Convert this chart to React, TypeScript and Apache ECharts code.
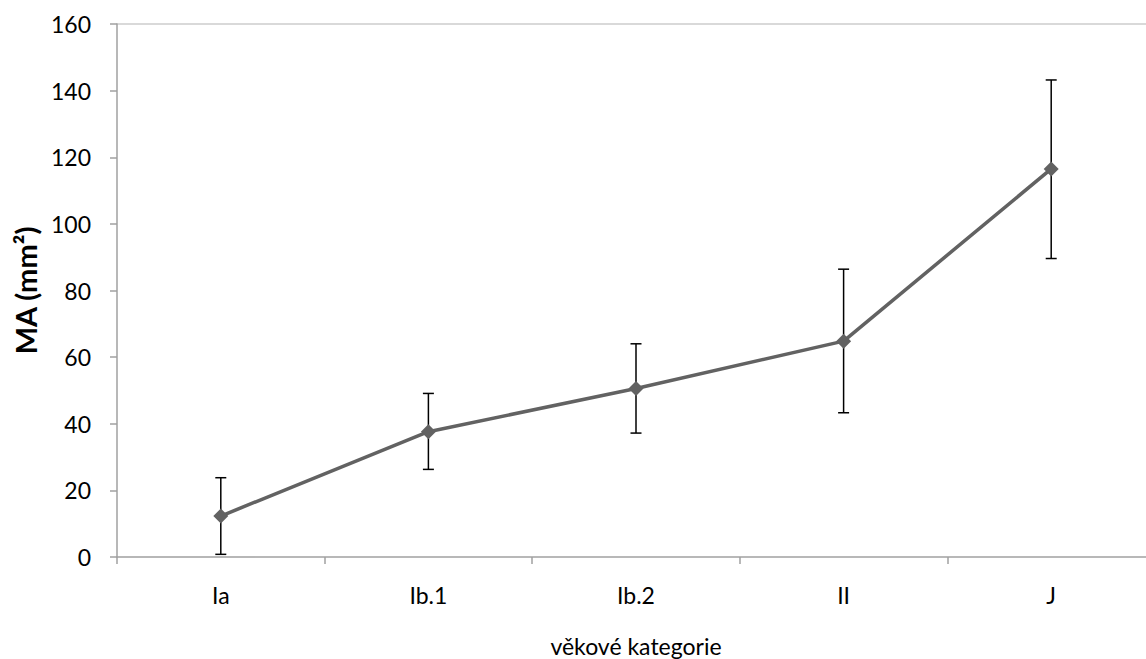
import React, { useEffect, useRef } from "react";
import * as echarts from "echarts";

const categories = ["Ia", "Ib.1", "Ib.2", "II", "J"];
const meanValues = [12.3, 37.6, 50.6, 64.8, 116.5];
const upperValues = [23.8, 49.1, 64.0, 86.4, 143.2];
const lowerValues = [0.8, 26.3, 37.2, 43.3, 89.6];
const yTicks = { min: 0, max: 160, interval: 20 };

const FONT = "Lato";

export default function App() {
  const ref = useRef<HTMLDivElement>(null);
  useEffect(() => {
    if (!ref.current) return;
    const chart = echarts.init(ref.current, undefined, { renderer: "svg" });
    const errData = categories.map((_, i) => [i, lowerValues[i], upperValues[i]]);
    const splitColors = Array.from({ length: 9 }, (_, i) => (i === 8 ? "#d9d9d9" : "rgba(0,0,0,0)"));
    chart.setOption({
      animation: false,
      backgroundColor: "#ffffff",
      grid: {
        left: 117,
        right: -9,
        top: 24,
        bottom: 102,
        containLabel: false,
        outerBoundsMode: "none",
      },
      xAxis: {
        type: "category",
        data: categories,
        boundaryGap: true,
        name: "věkové kategorie",
        nameLocation: "middle",
        nameGap: 77,
        nameTextStyle: { fontFamily: FONT, fontSize: 23, color: "#000" },
        axisLine: { lineStyle: { color: "#a0a0a0", width: 1.5 } },
        axisTick: { show: true, length: 7, lineStyle: { color: "#a0a0a0", width: 1.5 } },
        axisLabel: { fontFamily: FONT, fontSize: 23, color: "#000", margin: 26 },
        splitLine: { show: false },
      },
      yAxis: {
        type: "value",
        min: yTicks.min,
        max: yTicks.max,
        interval: yTicks.interval,
        name: "MA (mm²)",
        nameLocation: "middle",
        nameGap: 75,
        nameTextStyle: { fontFamily: FONT, fontSize: 29, fontWeight: "bold", color: "#000" },
        axisLine: { show: true, lineStyle: { color: "#a0a0a0", width: 1.5 } },
        axisTick: { show: true, length: 7, lineStyle: { color: "#a0a0a0", width: 1.5 } },
        axisLabel: { fontFamily: FONT, fontSize: 23, color: "#000", margin: 26 },
        splitLine: { show: true, lineStyle: { color: splitColors, width: 2 } },
      },
      series: [
        {
          type: "custom",
          z: 1,
          data: errData,
          renderItem: (params: any, api: any) => {
            const i = api.value(0);
            const lo = api.coord([i, api.value(1)]);
            const hi = api.coord([i, api.value(2)]);
            const hw = 5.5;
            const style = { stroke: "#000", lineWidth: 1.5 };
            return {
              type: "group",
              children: [
                { type: "line", shape: { x1: hi[0], y1: hi[1], x2: lo[0], y2: lo[1] }, style },
                { type: "line", shape: { x1: hi[0] - hw, y1: hi[1], x2: hi[0] + hw, y2: hi[1] }, style },
                { type: "line", shape: { x1: lo[0] - hw, y1: lo[1], x2: lo[0] + hw, y2: lo[1] }, style },
              ],
            };
          },
        },
        {
          type: "line",
          z: 3,
          data: meanValues,
          symbol: "diamond",
          symbolSize: 15,
          lineStyle: { color: "#626262", width: 3.5 },
          itemStyle: { color: "#626262" },
        },
      ],
    });
    return () => chart.dispose();
  }, []);
  return (
    <div
      ref={ref}
      style={{ position: "fixed", left: 0, top: 0, width: 1146, height: 659 }}
    />
  );
}
